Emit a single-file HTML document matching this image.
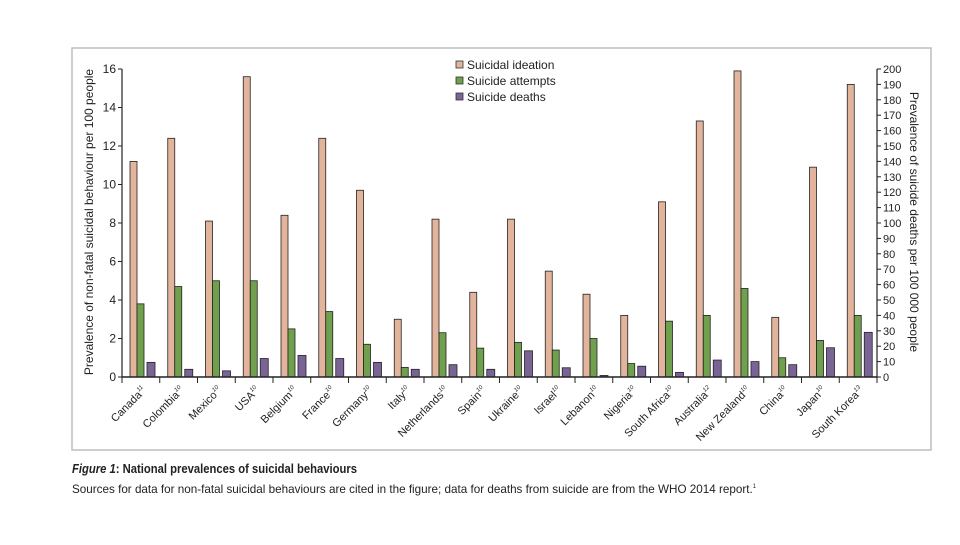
<!DOCTYPE html>
<html><head><meta charset="utf-8"><style>
body{margin:0;background:#fff;width:960px;height:540px;overflow:hidden}
svg text{font-family:"Liberation Sans",sans-serif;fill:#222}
</style></head><body>
<svg id="chart" width="960" height="540" viewBox="0 0 960 540">
<rect x="72" y="48" width="859" height="402" fill="#fff" stroke="#b8c0c0" stroke-width="1.5"/>
<g id="plot"></g>
<text transform="translate(93,222) rotate(-90)" text-anchor="middle" font-size="12">Prevalence of non-fatal suicidal behaviour per 100 people</text>
<text transform="translate(910,222) rotate(90)" text-anchor="middle" font-size="12">Prevalence of suicide deaths per 100 000 people</text>
<g font-size="12">
<rect x="456" y="61" width="7" height="7" fill="#e3b49c" stroke="#333" stroke-width="0.8"/>
<text x="467" y="69">Suicidal ideation</text>
<rect x="456" y="77" width="7" height="7" fill="#6fa04e" stroke="#333" stroke-width="0.8"/>
<text x="467" y="85">Suicide attempts</text>
<rect x="456" y="93" width="7" height="7" fill="#7a6496" stroke="#333" stroke-width="0.8"/>
<text x="467" y="101">Suicide deaths</text>
</g>
<text x="72" y="473" font-size="13" font-weight="bold" textLength="285" lengthAdjust="spacingAndGlyphs"><tspan font-style="italic">Figure 1</tspan>: National prevalences of suicidal behaviours</text>
<text x="72" y="493" font-size="12" textLength="684" lengthAdjust="spacingAndGlyphs">Sources for data for non-fatal suicidal behaviours are cited in the figure; data for deaths from suicide are from the WHO 2014 report.<tspan font-size="6" dy="-5">1</tspan></text>
</svg>
<script>
const countries=["Canada","Colombia","Mexico","USA","Belgium","France","Germany","Italy","Netherlands","Spain","Ukraine","Israel","Lebanon","Nigeria","South Africa","Australia","New Zealand","China","Japan","South Korea"];
const refs=["11","10","10","10","10","10","10","10","10","10","10","10","10","10","10","12","10","10","10","13"];
const ideation=[11.2,12.4,8.1,15.6,8.4,12.4,9.7,3.0,8.2,4.4,8.2,5.5,4.3,3.2,9.1,13.3,15.9,3.1,10.9,15.2];
const attempts=[3.8,4.7,5.0,5.0,2.5,3.4,1.7,0.5,2.3,1.5,1.8,1.4,2.0,0.7,2.9,3.2,4.6,1.0,1.9,3.2];
const deaths=[9.5,5,4,12,14,12,9.5,5,8,5,17,6,1,7,3,11,10,8,19,29];
const leftTicks=[0,2,4,6,8,10,12,14,16];
const rightTicks=[0,10,20,30,40,50,60,70,80,90,100,110,120,130,140,150,160,170,180,190,200];
const NS="http://www.w3.org/2000/svg";
const X0=122,X1=877,Y0=377,Y1=69;
const band=(X1-X0)/countries.length;
const yL=v=>Y0-(v/16)*(Y0-Y1);
const yR=v=>Y0-(v/200)*(Y0-Y1);
const g=document.getElementById('plot');
function mk(t,a){const e=document.createElementNS(NS,t);for(const k in a)e.setAttribute(k,a[k]);g.appendChild(e);return e;}
function bar(x,w,y,fill,name){const e=mk('rect',{x:x,y:y,width:w,height:Math.max(0,Y0-y),fill:fill,stroke:'#222','stroke-width':0.8});

}
countries.forEach((c,i)=>{
 const bx=X0+i*band;
 bar(bx+8,7,yL(ideation[i]),'#e3b49c','bar-ideation-'+i);
 bar(bx+15,7,yL(attempts[i]),'#6fa04e','bar-attempts-'+i);
 bar(bx+25,8,yR(deaths[i]),'#7a6496','bar-deaths-'+i);
 const t=mk('line',{x1:bx+band,x2:bx+band,y1:Y0,y2:Y0+6,stroke:'#222','stroke-width':1});
 
 
 const cx=bx+band/2+6;
 const lb=mk('text',{transform:`translate(${cx},${Y0+14}) rotate(-45)`,'text-anchor':'end','font-size':11});
 
 
 lb.textContent=c;
 const sp=document.createElementNS(NS,'tspan');sp.setAttribute('font-size','6');sp.setAttribute('dy','-5');sp.setAttribute('font-style','italic');sp.textContent=refs[i];lb.appendChild(sp);
});
const ax=mk('line',{x1:X0,x2:X1,y1:Y0,y2:Y0,stroke:'#222','stroke-width':1.5});


const t0=mk('line',{x1:X0,x2:X0,y1:Y0,y2:Y0+6,stroke:'#222'});


const la=mk('line',{x1:X0,x2:X0,y1:Y1,y2:Y0,stroke:'#222','stroke-width':1.2});


const ra=mk('line',{x1:X1,x2:X1,y1:Y1,y2:Y0,stroke:'#222','stroke-width':1.2});


leftTicks.forEach(v=>{const y=yL(v);
 const l=mk('line',{x1:X0-4,x2:X0,y1:y,y2:y,stroke:'#222'});
 
 
 const t=mk('text',{x:X0-6,y:y+4,'text-anchor':'end','font-size':12});
 
 
 t.textContent=v;});
rightTicks.forEach(v=>{const y=yR(v);
 const l=mk('line',{x1:X1,x2:X1+4,y1:y,y2:y,stroke:'#222'});
 
 
 const t=mk('text',{x:X1+6,y:y+4,'font-size':11});
 
 
 t.textContent=v;});
</script>
</body></html>
